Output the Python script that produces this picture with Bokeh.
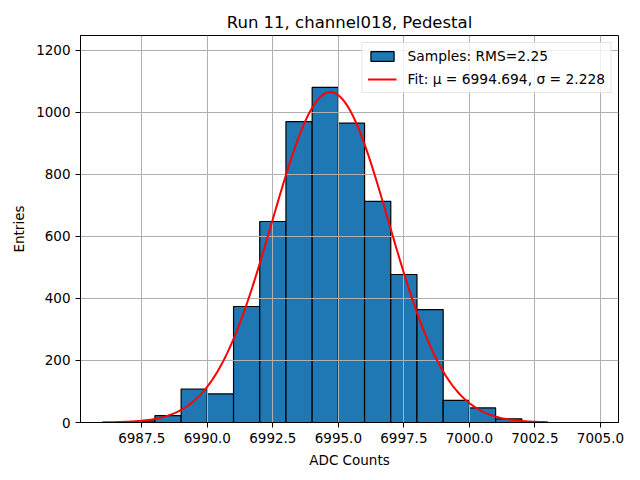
import numpy as np
from bokeh.plotting import figure
from bokeh.models import Range1d, FixedTicker, Legend, LegendItem
from bokeh.embed import file_html
from bokeh.resources import INLINE

# Histogram bins
bin_left = [6987.5, 6988, 6989, 6990, 6991, 6992, 6993, 6994, 6995, 6996, 6997, 6998, 6999, 7000, 7001]
bin_right = [6988, 6989, 6990, 6991, 6992, 6993, 6994, 6995, 6996, 6997, 6998, 6999, 7000, 7001, 7002]
counts = [5, 22, 108, 92, 374, 648, 970, 1080, 965, 713, 477, 364, 71, 47, 12]

# Fit parameters (from legend / picture)
fit_mu = 6994.694
fit_sigma = 2.228
fit_amp = 1065
fit_start = 6986.0
fit_end = 7003.0

x_ticks = [6987.5, 6990.0, 6992.5, 6995.0, 6997.5, 7000.0, 7002.5, 7005.0]
y_ticks = [0, 200, 400, 600, 800, 1000, 1200]

title_text = "Run 11, channel018, Pedestal"
x_label = "ADC Counts"
y_label = "Entries"
legend_hist = "Samples: RMS=2.25"
legend_fit = "Fit: \u03bc = 6994.694, \u03c3 = 2.228"

FONT = "DejaVu Sans"

p = figure(width=632, height=472, output_backend="svg", toolbar_location=None,
           x_range=Range1d(6985.16, 7005.69), y_range=Range1d(0, 1247.5),
           min_border_left=80, min_border_right=14, min_border_top=35, min_border_bottom=50)

p.title.text = title_text
p.title.text_font = FONT
p.title.text_font_size = "16.5px"
p.title.text_font_style = "normal"
p.title.align = "center"
p.title.text_color = "black"
p.title.standoff = 7

bars = p.quad(left=bin_left, right=bin_right, bottom=0, top=counts,
              fill_color="#1f77b4", line_color="black", line_width=1.2, level="image")

fx = np.linspace(fit_start, fit_end, 400)
fy = fit_amp * np.exp(-0.5 * ((fx - fit_mu) / fit_sigma) ** 2)
line = p.line(fx, fy, line_color="red", line_width=2)

for ax in (p.xaxis, p.yaxis):
    ax.major_label_text_font = FONT
    ax.major_label_text_font_size = "13.5px"
    ax.major_label_text_color = "black"
    ax.axis_label_text_font = FONT
    ax.axis_label_text_font_size = "13.5px"
    ax.axis_label_text_font_style = "normal"
    ax.axis_label_text_color = "black"
    ax.major_tick_in = 0
    ax.major_tick_out = 5
    ax.major_tick_line_color = "black"
    ax.major_tick_line_width = 1
    ax.minor_tick_line_color = None
    ax.axis_line_color = "black"
    ax.axis_line_width = 1
    ax.major_label_standoff = 5
    ax.axis_label_standoff = 6

p.xaxis.ticker = FixedTicker(ticks=x_ticks)
p.xaxis.major_label_overrides = {t: f"{t:.1f}" for t in x_ticks}
p.yaxis.ticker = FixedTicker(ticks=y_ticks)
p.xaxis.axis_label = x_label
p.yaxis.axis_label = y_label

p.xgrid.ticker = FixedTicker(ticks=x_ticks)
p.ygrid.ticker = FixedTicker(ticks=y_ticks)
for g in (p.xgrid, p.ygrid):
    g.grid_line_color = "#b0b0b0"
    g.grid_line_width = 1
    g.level = "underlay"

p.outline_line_color = "black"
p.outline_line_width = 1
p.outline_line_alpha = 1

legend = Legend(items=[LegendItem(label=legend_hist, renderers=[bars]),
                       LegendItem(label=legend_fit, renderers=[line])],
                location="top_right")
legend.label_text_font = FONT
legend.label_text_font_size = "13.8px"
legend.label_text_color = "black"
legend.glyph_width = 29
legend.glyph_height = 12
legend.label_height = 16
legend.label_standoff = 11
legend.spacing = 7
legend.padding = 5
legend.margin = 7
legend.border_line_color = "#cccccc"
legend.border_line_width = 1
legend.background_fill_alpha = 0.8
p.add_layout(legend, "center")

open("out.html", "w").write(file_html(p, INLINE))
